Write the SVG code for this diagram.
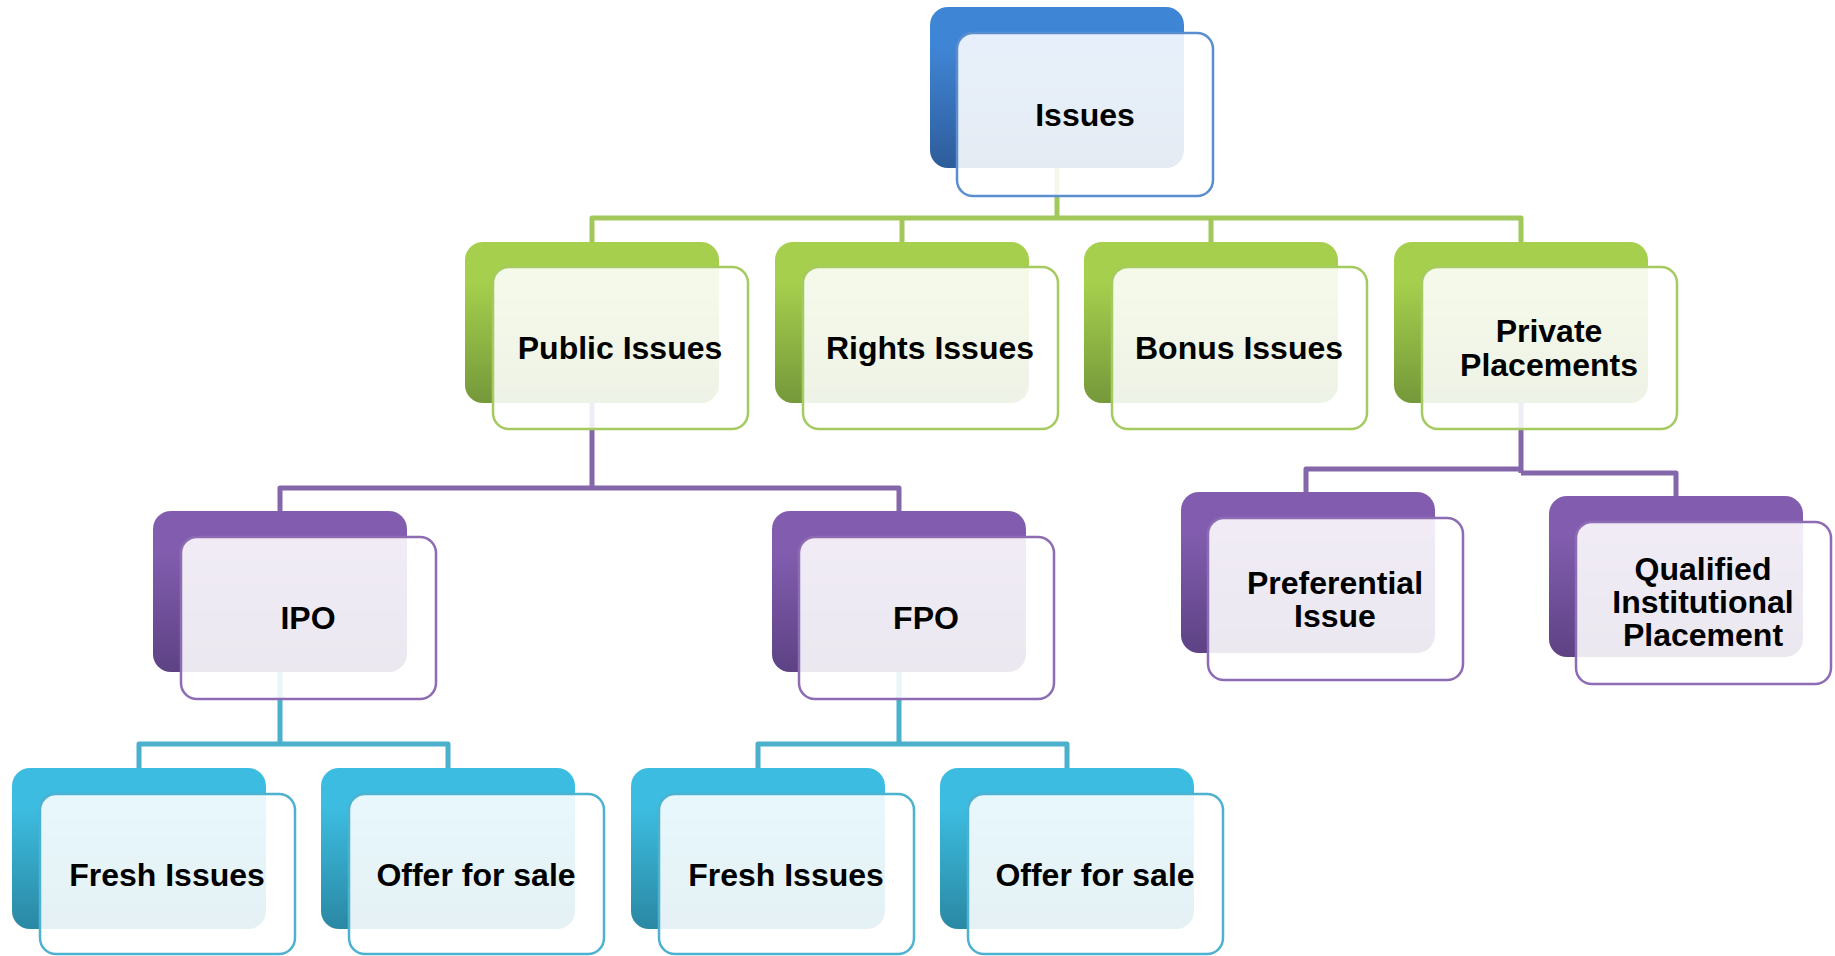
<svg xmlns="http://www.w3.org/2000/svg" width="1835" height="956" viewBox="0 0 1835 956">
<defs>
<linearGradient id="gBlue" x1="0" y1="0" x2="0" y2="1"><stop offset="0.25" stop-color="#3F85D5"/><stop offset="1" stop-color="#2E5C9A"/></linearGradient>
<linearGradient id="gGreen" x1="0" y1="0" x2="0" y2="1"><stop offset="0.25" stop-color="#A6CF4D"/><stop offset="1" stop-color="#75983A"/></linearGradient>
<linearGradient id="gPurple" x1="0" y1="0" x2="0" y2="1"><stop offset="0.25" stop-color="#825DAF"/><stop offset="1" stop-color="#5D4284"/></linearGradient>
<linearGradient id="gCyan" x1="0" y1="0" x2="0" y2="1"><stop offset="0.25" stop-color="#3CBCE0"/><stop offset="1" stop-color="#2A88A3"/></linearGradient>
</defs>
<style>
.back{rx:18px;ry:18px}
.front{fill:#FFFFFF;fill-opacity:0.88;stroke-width:2.5;rx:16px;ry:16px}
.blue .back{fill:url(#gBlue)} .blue .front{stroke:#5B8ECF}
.green .back{fill:url(#gGreen)} .green .front{stroke:#A5CA60}
.purple .back{fill:url(#gPurple)} .purple .front{stroke:#8D6CB4}
.cyan .back{fill:url(#gCyan)} .cyan .front{stroke:#4DB2CF}
.lbl{font-family:"Liberation Sans",Arial,sans-serif;font-weight:bold;font-size:32px;fill:#000;text-anchor:middle}
.c{fill:none;stroke-width:5;stroke-linejoin:round}
.cg{stroke:#A2C75A}.cp{stroke:#8466AA}.cc{stroke:#4BB0CB}
</style>
<g id="connectors">
<path class="c cg" d="M1057,150V218M592,242V218H1521V242M902,218V242M1211,218V242"/>
<path class="c cp" d="M592,400V488M280,511V488H899V511"/>
<path class="c cp" d="M1521,400V473M1306,492V469H1521M1521,473H1676V496"/>
<path class="c cc" d="M280,670V744M139,768V744H448V768"/>
<path class="c cc" d="M899,670V744M758,768V744H1067V768"/>
</g>
<g id="issues" class="blue"><rect class="back" x="930" y="7" width="254" height="161"/><rect class="front" x="957" y="33" width="256" height="163"/><text class="lbl" x="1085" y="126">Issues</text></g>
<g id="public-issues" class="green"><rect class="back" x="465" y="242" width="254" height="161"/><rect class="front" x="493" y="267" width="255" height="162"/><text class="lbl" x="620" y="359">Public Issues</text></g>
<g id="rights-issues" class="green"><rect class="back" x="775" y="242" width="254" height="161"/><rect class="front" x="803" y="267" width="255" height="162"/><text class="lbl" x="930" y="359">Rights Issues</text></g>
<g id="bonus-issues" class="green"><rect class="back" x="1084" y="242" width="254" height="161"/><rect class="front" x="1112" y="267" width="255" height="162"/><text class="lbl" x="1239" y="359">Bonus Issues</text></g>
<g id="private-placements" class="green"><rect class="back" x="1394" y="242" width="254" height="161"/><rect class="front" x="1422" y="267" width="255" height="162"/><text class="lbl" x="1549" y="342">Private</text><text class="lbl" x="1549" y="376">Placements</text></g>
<g id="ipo" class="purple"><rect class="back" x="153" y="511" width="254" height="161"/><rect class="front" x="181" y="537" width="255" height="162"/><text class="lbl" x="308" y="629">IPO</text></g>
<g id="fpo" class="purple"><rect class="back" x="772" y="511" width="254" height="161"/><rect class="front" x="799" y="537" width="255" height="162"/><text class="lbl" x="926" y="629">FPO</text></g>
<g id="preferential-issue" class="purple"><rect class="back" x="1181" y="492" width="254" height="161"/><rect class="front" x="1208" y="518" width="255" height="162"/><text class="lbl" x="1335" y="594">Preferential</text><text class="lbl" x="1335" y="627">Issue</text></g>
<g id="qip" class="purple"><rect class="back" x="1549" y="496" width="254" height="161"/><rect class="front" x="1576" y="522" width="255" height="162"/><text class="lbl" x="1703" y="580">Qualified</text><text class="lbl" x="1703" y="613">Institutional</text><text class="lbl" x="1703" y="646">Placement</text></g>
<g id="ipo-fresh-issues" class="cyan"><rect class="back" x="12" y="768" width="254" height="161"/><rect class="front" x="40" y="794" width="255" height="160"/><text class="lbl" x="167" y="886">Fresh Issues</text></g>
<g id="ipo-offer-for-sale" class="cyan"><rect class="back" x="321" y="768" width="254" height="161"/><rect class="front" x="349" y="794" width="255" height="160"/><text class="lbl" x="476" y="886">Offer for sale</text></g>
<g id="fpo-fresh-issues" class="cyan"><rect class="back" x="631" y="768" width="254" height="161"/><rect class="front" x="659" y="794" width="255" height="160"/><text class="lbl" x="786" y="886">Fresh Issues</text></g>
<g id="fpo-offer-for-sale" class="cyan"><rect class="back" x="940" y="768" width="254" height="161"/><rect class="front" x="968" y="794" width="255" height="160"/><text class="lbl" x="1095" y="886">Offer for sale</text></g>
</svg>
